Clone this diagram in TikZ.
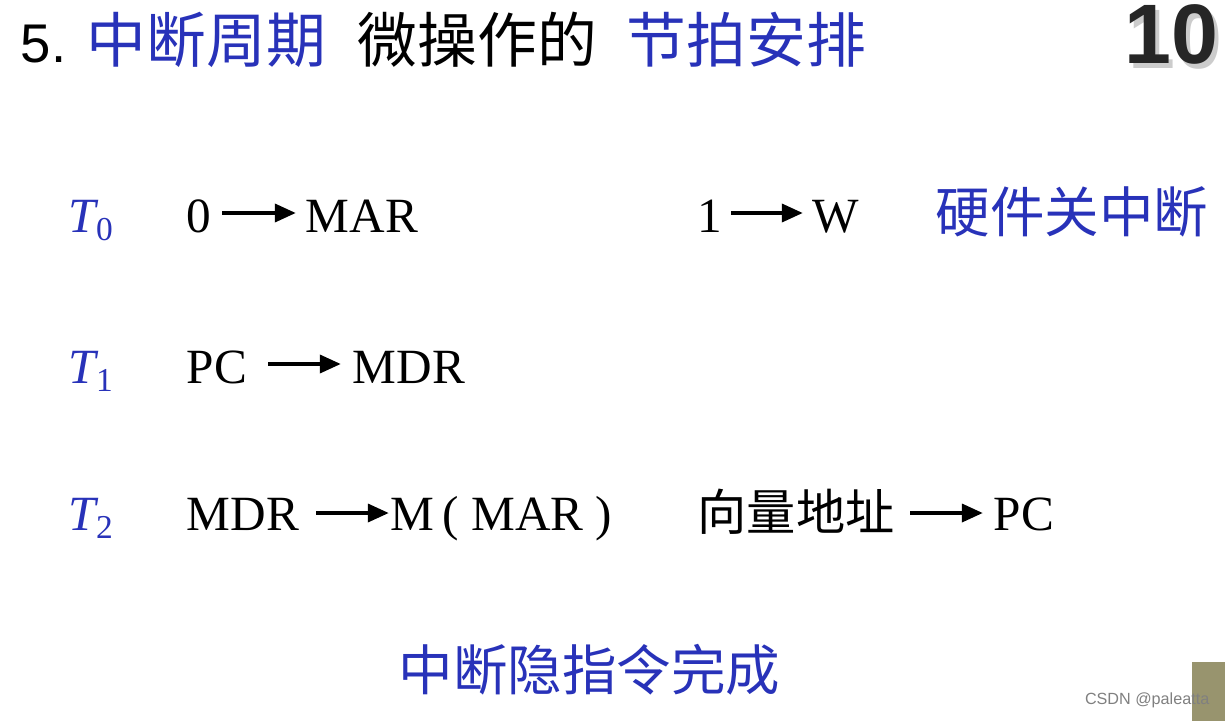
\documentclass[tikz,border=0pt]{standalone}
\usepackage{fontspec}
\setmainfont{Liberation Serif}
\newfontfamily\cjk{Noto Sans CJK SC}
\newfontfamily\arial{Liberation Sans}
\usetikzlibrary{arrows.meta}
\definecolor{tblue}{RGB}{40,50,185}
\tikzset{
  body/.style={inner sep=0pt, anchor=base west, font=\fontsize{14}{16}\selectfont},
  lbl/.style={inner sep=0pt, anchor=base west, text=tblue, font=\fontsize{14}{16}\selectfont\itshape},
  cn/.style={inner sep=0pt, anchor=base west, text=tblue, font=\fontsize{15.5}{17}\selectfont\cjk},
  cnb/.style={inner sep=0pt, anchor=base west, font=\fontsize{15.5}{17}\selectfont\cjk},
  arr/.style={line width=1.3pt, -{Triangle[length=6pt,width=5pt]}}
}
\newcommand{\tsub}[1]{\raisebox{-2.5pt}{\upshape\fontsize{9.5}{10}\selectfont #1}}
\begin{document}
\begin{tikzpicture}[x=0.01cm,y=-0.01cm]
\useasboundingbox (0,0) rectangle (1225,721);
\fill[white] (0,0) rectangle (1225,721);
% title
\node[inner sep=0pt, anchor=base west, font=\fontsize{15.5}{17}\selectfont\arial] (n5) at (20,62) {5.};
\node[cn, font=\fontsize{17}{19}\selectfont\cjk] (t1) at (86,62) {中断周期};
\node[cnb, font=\fontsize{17}{19}\selectfont\cjk] (t2) at (357,62) {微操作的};
\node[cn, font=\fontsize{17}{19}\selectfont\cjk] (t3) at (626,62) {节拍安排};
\node[inner sep=0pt, anchor=base east, font=\fontsize{24}{26}\selectfont\arial\bfseries, text=gray!40] at (1223,68) {10};
\node[inner sep=0pt, anchor=base east, font=\fontsize{24}{26}\selectfont\arial\bfseries, text=black!85] (num) at (1219,64) {10};
% rows
\node[lbl] (T0) at (68,232) {T\tsub{0}};
\node[lbl] (T1) at (68,383) {T\tsub{1}};
\node[lbl] (T2) at (68,530) {T\tsub{2}};
\node[body] (z) at (186,232) {0};
\node[body] (mar) at (305,232) {MAR};
\coordinate (a0s) at (222,213); \coordinate (a0e) at (296,213);
\draw[arr] (a0s) -- (a0e);
\node[body] (one) at (697,232) {1};
\node[body] (w) at (812,232) {W};
\coordinate (a1s) at (731,213); \coordinate (a1e) at (803,213);
\draw[arr] (a1s) -- (a1e);
\node[cn] (hw) at (935,232) {硬件关中断};
\node[body] (pc) at (186,383) {PC};
\node[body] (mdr) at (352,383) {MDR};
\coordinate (a2s) at (268,364); \coordinate (a2e) at (341,364);
\draw[arr] (a2s) -- (a2e);
\node[body] (mdr2) at (186,530) {MDR};
\node[body] (mm) at (390,530) {M\,( MAR )};
\coordinate (a3s) at (316,513); \coordinate (a3e) at (389,513);
\draw[arr] (a3s) -- (a3e);
\node[cnb, font=\fontsize{14}{16}\selectfont\cjk] (vec) at (697,530) {向量地址};
\node[body] (pc2) at (993,530) {PC};
\coordinate (a4s) at (910,513); \coordinate (a4e) at (983,513);
\draw[arr] (a4s) -- (a4e);
\node[cn] (done) at (398,690) {中断隐指令完成};
% corner
\fill[black!55!olive!60] (1192,662) rectangle (1225,721);
\node[inner sep=0pt, anchor=base east, font=\fontsize{4.6}{5}\selectfont\arial, text=gray] (wm) at (1210,704) {CSDN @paleatta};
\end{tikzpicture}
\end{document}
